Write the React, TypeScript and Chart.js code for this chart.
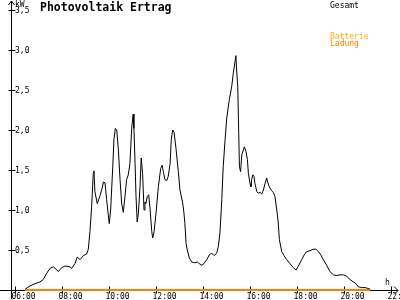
import { useEffect, useRef } from "react";
import { Chart, registerables } from "chart.js";

Chart.register(...registerables);

// time of day in decimal hours
const times = [
  6.43, 6.64, 6.85, 7.06, 7.2, 7.35, 7.49, 7.63, 7.75, 7.84, 7.99, 8.13, 8.34, 8.41, 8.55, 8.65, 8.77, 8.91, 9.05, 9.12,
  9.19, 9.26, 9.33, 9.36, 9.4, 9.5, 9.62, 9.73, 9.76, 9.83, 9.9, 9.97, 10.01, 10.07, 10.16, 10.21, 10.27, 10.33, 10.4, 10.47,
  10.54, 10.61, 10.68, 10.75, 10.82, 10.89, 10.97, 11.01, 11.03, 11.06, 11.11, 11.15, 11.2, 11.25, 11.32, 11.37, 11.43, 11.49, 11.53, 11.57,
  11.63, 11.69, 11.75, 11.82, 11.86, 11.92, 12.0, 12.1, 12.2, 12.26, 12.31, 12.38, 12.46, 12.52, 12.6, 12.65, 12.71, 12.77, 12.85, 12.95,
  13.02, 13.14, 13.19, 13.23, 13.28, 13.33, 13.42, 13.52, 13.66, 13.76, 13.84, 13.95, 14.04, 14.16, 14.27, 14.37, 14.47, 14.58, 14.65, 14.72,
  14.8, 14.86, 14.94, 15.01, 15.12, 15.22, 15.29, 15.36, 15.4, 15.43, 15.48, 15.52, 15.55, 15.6, 15.65, 15.72, 15.76, 15.83, 15.89, 15.93,
  16.0, 16.04, 16.07, 16.12, 16.17, 16.21, 16.29, 16.35, 16.43, 16.5, 16.57, 16.64, 16.71, 16.75, 16.82, 16.92, 16.99, 17.06, 17.14, 17.2,
  17.25, 17.35, 17.45, 17.56, 17.7, 17.84, 17.96, 18.06, 18.2, 18.31, 18.41, 18.55, 18.69, 18.81, 18.91, 19.01, 19.12, 19.26, 19.4, 19.55,
  19.69, 19.83, 19.97, 20.12, 20.26, 20.4, 20.51, 20.61, 20.75, 20.89, 21.03, 21.11,
];

// "Gesamt" output in kW
const gesamt = [
  0.01, 0.05, 0.08, 0.1, 0.13, 0.21, 0.27, 0.29, 0.26, 0.23, 0.28, 0.3, 0.29, 0.27, 0.33, 0.41, 0.38, 0.43, 0.45, 0.51,
  0.73, 1.04, 1.46, 1.49, 1.23, 1.08, 1.18, 1.3, 1.35, 1.34, 1.13, 0.94, 0.83, 1.0, 1.54, 1.88, 2.02, 2.0, 1.75, 1.38,
  1.08, 0.97, 1.17, 1.38, 1.44, 1.58, 2.04, 2.15, 2.2, 2.02, 1.58, 1.17, 0.85, 0.96, 1.29, 1.65, 1.46, 1.0, 1.1, 1.08,
  1.17, 1.19, 1.0, 0.73, 0.65, 0.73, 0.96, 1.29, 1.52, 1.56, 1.48, 1.38, 1.37, 1.42, 1.58, 1.88, 2.0, 1.97, 1.77, 1.48,
  1.25, 1.08, 0.96, 0.83, 0.58, 0.5, 0.4, 0.35, 0.34, 0.35, 0.33, 0.31, 0.33, 0.38, 0.44, 0.46, 0.43, 0.46, 0.54, 0.71,
  1.13, 1.54, 1.88, 2.15, 2.38, 2.54, 2.71, 2.85, 2.93, 2.75, 2.54, 1.96, 1.54, 1.48, 1.69, 1.75, 1.79, 1.73, 1.63, 1.46,
  1.33, 1.29, 1.38, 1.44, 1.42, 1.33, 1.23, 1.21, 1.22, 1.2, 1.25, 1.33, 1.4, 1.35, 1.29, 1.24, 1.22, 1.17, 1.0, 0.85,
  0.63, 0.48, 0.43, 0.38, 0.33, 0.28, 0.25, 0.3, 0.38, 0.44, 0.48, 0.49, 0.51, 0.51, 0.48, 0.44, 0.38, 0.31, 0.23, 0.19,
  0.18, 0.19, 0.19, 0.17, 0.13, 0.1, 0.08, 0.04, 0.03, 0.03, 0.02, 0.01,
];

// "Batterie Ladung" (zero over the whole day)
const batterieTimes = [6.43, 21.11];
const batterieLadung = [0, 0];

const xTicks = [6, 8, 10, 12, 14, 16, 18, 20, 22];
const xTickLabels = ["06:00", "08:00", "10:00", "12:00", "14:00", "16:00", "18:00", "20:00", "22:00"];
const yTicks = [0.5, 1, 1.5, 2, 2.5, 3, 3.5];
const yTickLabels = ["0,5", "1,0", "1,5", "2,0", "2,5", "3,0", "3,5"];

const title = "Photovoltaik Ertrag";
const unitY = "kW";
const unitX = "h";
const legendGesamt = "Gesamt";
const legendBatterie = "Batterie";
const legendLadung = "Ladung";

const FONT = '"DejaVu Sans Mono", monospace';
const ORANGE = "#ff8000";
const GOLD = "#ffb000";

const axesPlugin = {
  id: "pvAxes",
  beforeDatasetsDraw(chart: any) {
    const ctx = chart.ctx as CanvasRenderingContext2D;
    const xs = chart.scales.x;
    const ys = chart.scales.y;
    const ax = Math.round(xs.left) - 4 + 0.5; // y-axis line
    const ay = Math.round(ys.getPixelForValue(0)) + 0.5; // x-axis line
    ctx.save();
    ctx.strokeStyle = "#000";
    ctx.lineWidth = 1;
    ctx.beginPath();
    // y axis with arrow
    ctx.moveTo(ax, 1);
    ctx.lineTo(ax, chart.height - 1);
    ctx.moveTo(ax - 3, 5);
    ctx.lineTo(ax, 1);
    ctx.lineTo(ax + 3, 5);
    // x axis with arrow
    ctx.moveTo(0, ay);
    ctx.lineTo(chart.width - 2, ay);
    ctx.moveTo(chart.width - 6, ay - 4);
    ctx.lineTo(chart.width - 2, ay);
    ctx.lineTo(chart.width - 6, ay + 4);
    // y ticks
    yTicks.forEach((v) => {
      const py = Math.round(ys.getPixelForValue(v)) + 0.5;
      ctx.moveTo(ax - 3, py);
      ctx.lineTo(ax + 4, py);
    });
    // x ticks
    xTicks.forEach((v) => {
      const px = Math.round(xs.getPixelForValue(v)) + 0.5;
      ctx.moveTo(px, ay - 4);
      ctx.lineTo(px, ay + 3);
    });
    ctx.stroke();

    ctx.fillStyle = "#000";
    ctx.font = `8px ${FONT}`;
    ctx.textAlign = "left";
    ctx.textBaseline = "middle";
    yTicks.forEach((v, i) => {
      const py = ys.getPixelForValue(v);
      ctx.fillText(yTickLabels[i], ax + 3.5, py + 0.5);
    });
    ctx.textBaseline = "alphabetic";
    xTicks.forEach((v, i) => {
      const px = xs.getPixelForValue(v);
      ctx.fillText(xTickLabels[i], px - 3.5, ay + 8);
    });
    ctx.fillText(unitY, ax + 3.5, 7);
    ctx.fillText(unitX, chart.width - 15, ay - 6);

    // title
    ctx.font = `bold 11.5px ${FONT}`;
    ctx.fillText(title, 40, 11);

    // legend
    ctx.font = `8px ${FONT}`;
    ctx.fillStyle = "#000";
    ctx.fillText(legendGesamt, 330, 8);
    ctx.fillStyle = GOLD;
    ctx.fillText(legendBatterie, 330, 39);
    ctx.fillStyle = ORANGE;
    ctx.fillText(legendLadung, 330, 46);
    ctx.restore();
  },
};

export default function App() {
  const canvasRef = useRef<HTMLCanvasElement | null>(null);

  useEffect(() => {
    const canvas = canvasRef.current;
    if (!canvas) return;
    const chart = new Chart(canvas, {
      type: "line",
      data: {
        datasets: [
          {
            label: legendGesamt,
            data: times.map((t, i) => ({ x: t, y: gesamt[i] })),
            borderColor: "#000",
            borderWidth: 1,
            pointRadius: 0,
            tension: 0,
            fill: false,
            clip: false,
          },
          {
            label: legendBatterie + " " + legendLadung,
            data: batterieTimes.map((t, i) => ({ x: t, y: batterieLadung[i] })),
            borderColor: ORANGE,
            backgroundColor: ORANGE,
            borderWidth: 2,
            pointRadius: 0,
            tension: 0,
            fill: false,
            clip: false,
          },
        ],
      },
      options: {
        responsive: false,
        animation: false,
        layout: { padding: { left: 15, right: 9, top: 10, bottom: 10 } },
        scales: {
          x: { type: "linear", min: 6, max: 22, display: false },
          y: { type: "linear", min: 0, max: 3.5, display: false },
        },
        plugins: {
          legend: { display: false },
          tooltip: { enabled: false },
        },
      },
      plugins: [axesPlugin],
    });
    return () => chart.destroy();
  }, []);

  return (
    <div style={{ position: "absolute", left: 0, top: 0, width: 400, height: 300, background: "#fff" }}>
      <canvas ref={canvasRef} width={400} height={300} style={{ display: "block" }} />
    </div>
  );
}
